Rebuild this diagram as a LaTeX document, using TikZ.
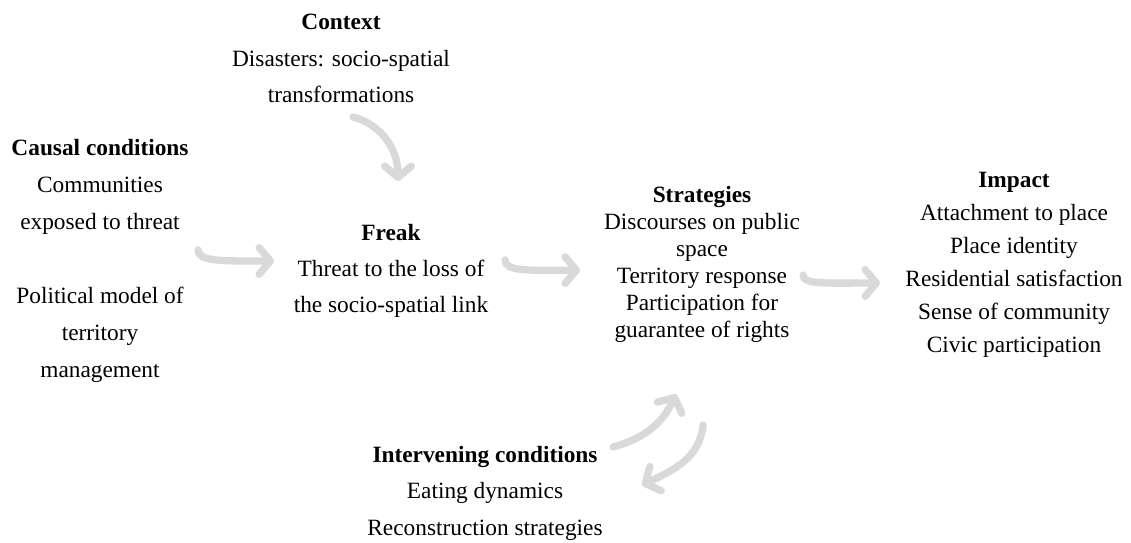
\documentclass[tikz,border=0pt]{standalone}
\usepackage{fontspec}
\setmainfont{Liberation Serif}
\usepackage{tikz}
\usetikzlibrary{arrows.meta}

\begin{document}
\begin{tikzpicture}[
    block/.style={align=center, inner sep=0pt, font=\fontsize{16.6}{26}\selectfont},
    tight/.style={font=\fontsize{16.6}{19.2}\selectfont},
    flow/.style={line width=5.2pt, draw=gray!30, line cap=round, -{Straight Barb[length=8pt, width=19pt, round]}}
]
    \useasboundingbox (0,0) rectangle (28.275,13.575);

    % Context
    \node[block] (context) at (8.525,12.11) {\textbf{Context}\\Disasters: socio-spatial\\transformations};

    % Causal conditions
    \node[block, font=\fontsize{16.6}{26.3}\selectfont] (causal) at (2.5,7.05) {\textbf{Causal conditions}\\Communities\\exposed to threat\\[26.3pt]Political model of\\territory\\management};

    % Phenomenon
    \node[block, font=\fontsize{16.6}{25.6}\selectfont] (freak) at (9.775,6.8) {\textbf{Freak}\\Threat to the loss of\\the socio-spatial link};

    % Strategies
    \node[block, tight] (strategies) at (17.55,6.96) {\textbf{Strategies}\\Discourses on public\\space\\Territory response\\Participation for\\guarantee of rights};

    % Impact
    \node[block, font=\fontsize{16.6}{23.5}\selectfont] (impact) at (25.35,6.96) {\textbf{Impact}\\Attachment to place\\Place identity\\Residential satisfaction\\Sense of community\\Civic participation};

    % Intervening conditions
    \node[block] (intervening) at (12.125,1.24) {\textbf{Intervening conditions}\\Eating dynamics\\Reconstruction strategies};

    % Arrow ends
    \coordinate (ctxtail) at (8.825,10.65);
    \coordinate (ctxhead) at (9.95,9.05);
    \coordinate (causaltail) at (4.95,7.33);
    \coordinate (causalhead) at (6.85,7.05);
    \coordinate (freaktail) at (12.625,7.08);
    \coordinate (freakhead) at (14.5,6.82);
    \coordinate (strattail) at (20.075,6.7);
    \coordinate (strathead) at (22.0,6.5);
    \coordinate (uptail) at (15.325,2.4);
    \coordinate (uphead) at (16.9,3.72);
    \coordinate (downtail) at (17.575,2.95);
    \coordinate (downhead) at (16.05,1.45);

    % Connections
    \draw[flow] (ctxtail) to[out=-15, in=90] (ctxhead);
    \draw[flow] (causaltail) .. controls +(0,-0.3) and +(-1.3,0) .. (causalhead);
    \draw[flow] (freaktail) .. controls +(0,-0.3) and +(-1.3,0) .. (freakhead);
    \draw[flow] (strattail) .. controls +(0,-0.25) and +(-1.3,0) .. (strathead);
    \draw[flow] (uptail) to[out=15, in=-115] (uphead);
    \draw[flow] (downtail) to[out=-95, in=25] (downhead);
\end{tikzpicture}
\end{document}
